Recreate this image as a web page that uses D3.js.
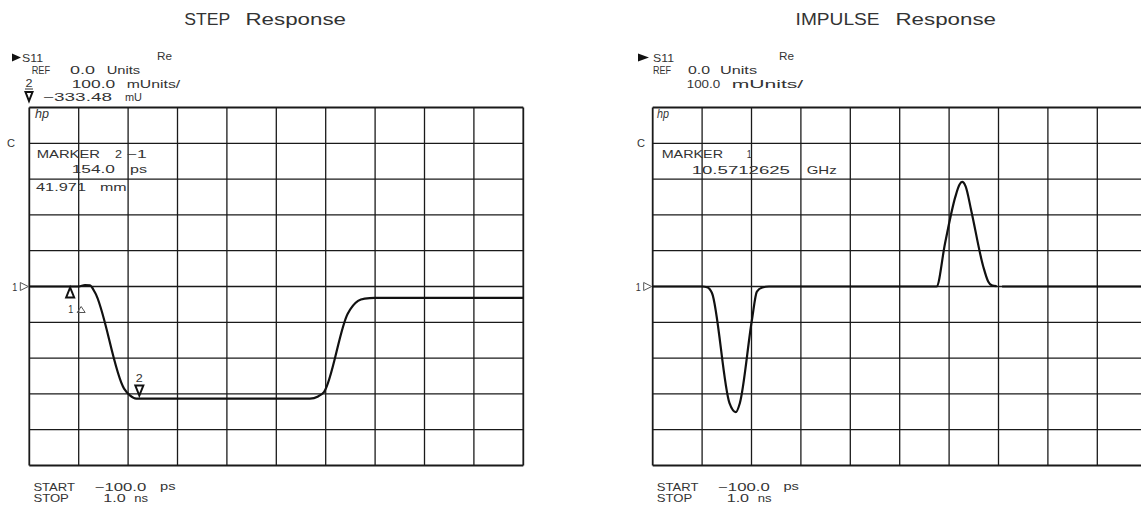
<!DOCTYPE html>
<html>
<head>
<meta charset="utf-8">
<script src="https://cdn.jsdelivr.net/npm/d3@7"></script>
<style>
  html, body { margin: 0; padding: 0; background: #fff; }
  svg { display: block; }
  text { font-family: "Liberation Sans", "DejaVu Sans", sans-serif; fill: #333; white-space: pre; }
</style>
</head>
<body>
<svg id="chart" width="1141" height="510"></svg>
<script>
// ---------------- DATA ----------------
// Time axis (ps): START -100 ps, STOP 1.0 ns ; vertical: REF 0.0 Units, 100 mUnits/div
const timeDomain = [-100, 1000];
const valueDomain = [-500, 500];          // mUnits, 10 divisions of 100
const gridDivisions = 10;

// STEP response trace (time ps, value mU)
const stepTimes  = [-100, 10, 24, 35, 46, 111, 124, 138, 525, 543, 556, 609, 632, 647, 669, 1000];
const stepValues = [   0,  0,  4,  3, -16, -285, -304, -313, -313, -307, -295, -76, -40, -34, -32, -32];

// IMPULSE response trace (time ps, value mU); null = gap in trace
const impulseTimes  = [-100, 11, 21, 32, 71, 85, 94, 121, 132, 144, 159, 532, 551, 574, 583, 589, 597, 609, 636, 647, 655, 666, 672, 678, 1000];
const impulseValues = [   0,  0, -2, -18, -326, -351, -326, -93, -14, -3, 0, 0, 121, 251, 284, 292, 279, 214, 56, 14, 3, 1, null, 0, 0];

// Step markers
const stepMarkerTimes  = [-9, 145];
const stepMarkerValues = [0, -313];

// Annotation texts
const titles = ["STEP  Response", "IMPULSE  Response"];
const stepHeader = ["S11", "Re", "REF", "0.0", "Units", "2", "100.0", "mUnits/", "\u2212333.48", "mU"];
const impulseHeader = ["S11", "Re", "REF", "0.0", "Units", "100.0", "mUnits/"];
const stepMarkerText = ["MARKER", "2", "\u22121", "154.0", "ps", "41.971", "mm"];
const impulseMarkerText = ["MARKER", "1", "10.5712625", "GHz"];
const sweepText = ["START", "\u2212100.0", "ps", "STOP", "1.0", "ns"];

// ---------------- DRAW ----------------
const svg = d3.select("#chart");
const panels = [
  { x0: 29.3, y0: 107.5, w: 494, h: 358 },
  { x0: 652.7, y0: 107.5, w: 494, h: 358 }
];

function label(g, x, y, txt, len, size, opts) {
  const t = g.append("text").attr("x", x).attr("y", y).text(txt)
    .style("font-size", (size || 11) + "px");
  if (len) t.attr("textLength", len).attr("lengthAdjust", "spacingAndGlyphs");
  if (opts && opts.italic) t.style("font-style", "italic");
  return t;
}

function drawPanel(p) {
  const x = d3.scaleLinear().domain(timeDomain).range([p.x0, p.x0 + p.w]);
  const y = d3.scaleLinear().domain(valueDomain).range([p.y0 + p.h, p.y0]);
  const g = svg.append("g");
  const tStep = (timeDomain[1] - timeDomain[0]) / gridDivisions;
  const vStep = (valueDomain[1] - valueDomain[0]) / gridDivisions;
  const xt = d3.range(gridDivisions + 1).map(i => timeDomain[0] + i * tStep);
  const yt = d3.range(gridDivisions + 1).map(i => valueDomain[0] + i * vStep);
  g.selectAll(".vl").data(xt).enter().append("line")
    .attr("x1", d => x(d)).attr("x2", d => x(d))
    .attr("y1", y(valueDomain[0])).attr("y2", y(valueDomain[1]))
    .attr("stroke", "#1a1a1a").attr("stroke-width", (d, i) => (i === 0 || i === gridDivisions) ? 1.8 : 1.3);
  g.selectAll(".hl").data(yt).enter().append("line")
    .attr("y1", d => y(d)).attr("y2", d => y(d))
    .attr("x1", x(timeDomain[0])).attr("x2", x(timeDomain[1]))
    .attr("stroke", "#1a1a1a").attr("stroke-width", (d, i) => (i === 0 || i === gridDivisions) ? 1.8 : 1.3);
  // reference marker "1▷"
  const ry = y(0), rx = x(timeDomain[0]);
  label(g, rx - 17, ry + 4, "1", 5, 10);
  g.append("path").attr("d", `M${rx - 9},${ry - 4}L${rx - 1},${ry}L${rx - 9},${ry + 4}Z`)
    .attr("fill", "none").attr("stroke", "#555").attr("stroke-width", 1);
  return { g, x, y };
}

function trace(P, times, values) {
  const data = times.map((t, i) => ({ t, v: values[i] }));
  const line = d3.line().defined(d => d.v !== null)
    .x(d => P.x(d.t)).y(d => P.y(d.v)).curve(d3.curveMonotoneX);
  P.g.append("path").attr("d", line(data)).attr("fill", "none")
    .attr("stroke", "#111").attr("stroke-width", 2.2).attr("stroke-linejoin", "round");
}

// ----- left: STEP -----
const L = drawPanel(panels[0]);
trace(L, stepTimes, stepValues);
// title
label(svg, 184.3, 25, titles[0].split("  ")[0], 46, 16);
label(svg, 245.5, 25, titles[0].split("  ")[1], 100.5, 16);
// header
svg.append("path").attr("d", "M12,53.5L21,57.5L12,61.5Z").attr("fill", "#111");
label(svg, 22, 62, stepHeader[0], 21);
label(svg, 157, 60, stepHeader[1], 15);
label(svg, 31.7, 74, stepHeader[2], 18.5);
label(svg, 70, 74, stepHeader[3], 25);
label(svg, 106.7, 74, stepHeader[4], 33.5);
label(svg, 25.5, 87, stepHeader[5], 7);
svg.append("line").attr("x1", 25).attr("x2", 33).attr("y1", 89).attr("y2", 89).attr("stroke", "#333").attr("stroke-width", 1);
label(svg, 71.7, 88, stepHeader[6], 43.5);
label(svg, 126.7, 88, stepHeader[7], 53.5);
svg.append("path").attr("d", "M25.5,92L32.5,92L29,101Z").attr("fill", "none").attr("stroke", "#111").attr("stroke-width", 2);
label(svg, 43, 101, stepHeader[8], 69);
label(svg, 125, 101, stepHeader[9], 17);
// marker box text
label(svg, 35, 118, "hp", 14, 12, { italic: true });
label(svg, 7, 147, "C", 8);
label(svg, 36.7, 158, stepMarkerText[0], 63.3);
label(svg, 115, 158, stepMarkerText[1], 7);
label(svg, 126.7, 158, stepMarkerText[2], 20);
label(svg, 71.7, 173, stepMarkerText[3], 43.3);
label(svg, 130, 173, stepMarkerText[4], 17);
label(svg, 36, 191, stepMarkerText[5], 50);
label(svg, 100, 191, stepMarkerText[6], 26.7);
// markers on trace
{
  const mx1 = L.x(stepMarkerTimes[0]), my1 = L.y(stepMarkerValues[0]);
  L.g.append("path").attr("d", `M${mx1},${my1 + 1}L${mx1 + 4},${my1 + 11}L${mx1 - 4},${my1 + 11}Z`)
    .attr("fill", "none").attr("stroke", "#111").attr("stroke-width", 2);
  label(L.g, mx1 - 2, my1 + 26, "1", 5, 11);
  L.g.append("path").attr("d", `M${mx1 + 11},${my1 + 20}L${mx1 + 15},${my1 + 26}L${mx1 + 7},${my1 + 26}Z`)
    .attr("fill", "none").attr("stroke", "#555").attr("stroke-width", 1);
  const mx2 = L.x(stepMarkerTimes[1]), my2 = L.y(stepMarkerValues[1]);
  L.g.append("path").attr("d", `M${mx2 - 4},${my2 - 13}L${mx2 + 4},${my2 - 13}L${mx2},${my2 - 3}Z`)
    .attr("fill", "none").attr("stroke", "#111").attr("stroke-width", 2);
  label(L.g, mx2 - 3.5, my2 - 16.5, "2", 7, 11);
}
// sweep text
function sweep(dx) {
  label(svg, 33.4 + dx, 490.5, sweepText[0], 41.6);
  label(svg, 94.7 + dx, 490.5, sweepText[1], 51.6);
  label(svg, 160 + dx, 489.5, sweepText[2], 15.5);
  label(svg, 33.4 + dx, 502, sweepText[3], 35.5);
  label(svg, 103.3 + dx, 502, sweepText[4], 22.4);
  label(svg, 134.3 + dx, 501.5, sweepText[5], 13.8);
}
sweep(0);

// ----- right: IMPULSE -----
const R = drawPanel(panels[1]);
trace(R, impulseTimes, impulseValues);
label(svg, 795.6, 25, titles[1].split("  ")[0], 84, 16);
label(svg, 895.5, 25, titles[1].split("  ")[1], 100.5, 16);
svg.append("path").attr("d", "M638,53.5L649,57.5L638,61.5Z").attr("fill", "#111");
label(svg, 653, 62, impulseHeader[0], 21);
label(svg, 779, 60, impulseHeader[1], 15);
label(svg, 653, 74, impulseHeader[2], 18);
label(svg, 688, 74, impulseHeader[3], 22);
label(svg, 720, 74, impulseHeader[4], 37);
label(svg, 686.7, 88, impulseHeader[5], 33.5);
label(svg, 731.7, 88, impulseHeader[6], 71.5);
label(svg, 657, 118, "hp", 12, 12, { italic: true });
label(svg, 637, 147, "C", 8);
label(svg, 661.7, 158, impulseMarkerText[0], 61.3);
label(svg, 746.7, 158, impulseMarkerText[1], 5);
label(svg, 691.7, 174, impulseMarkerText[2], 98.3);
label(svg, 806.7, 174, impulseMarkerText[3], 30);
sweep(623.4);
</script>
</body>
</html>
